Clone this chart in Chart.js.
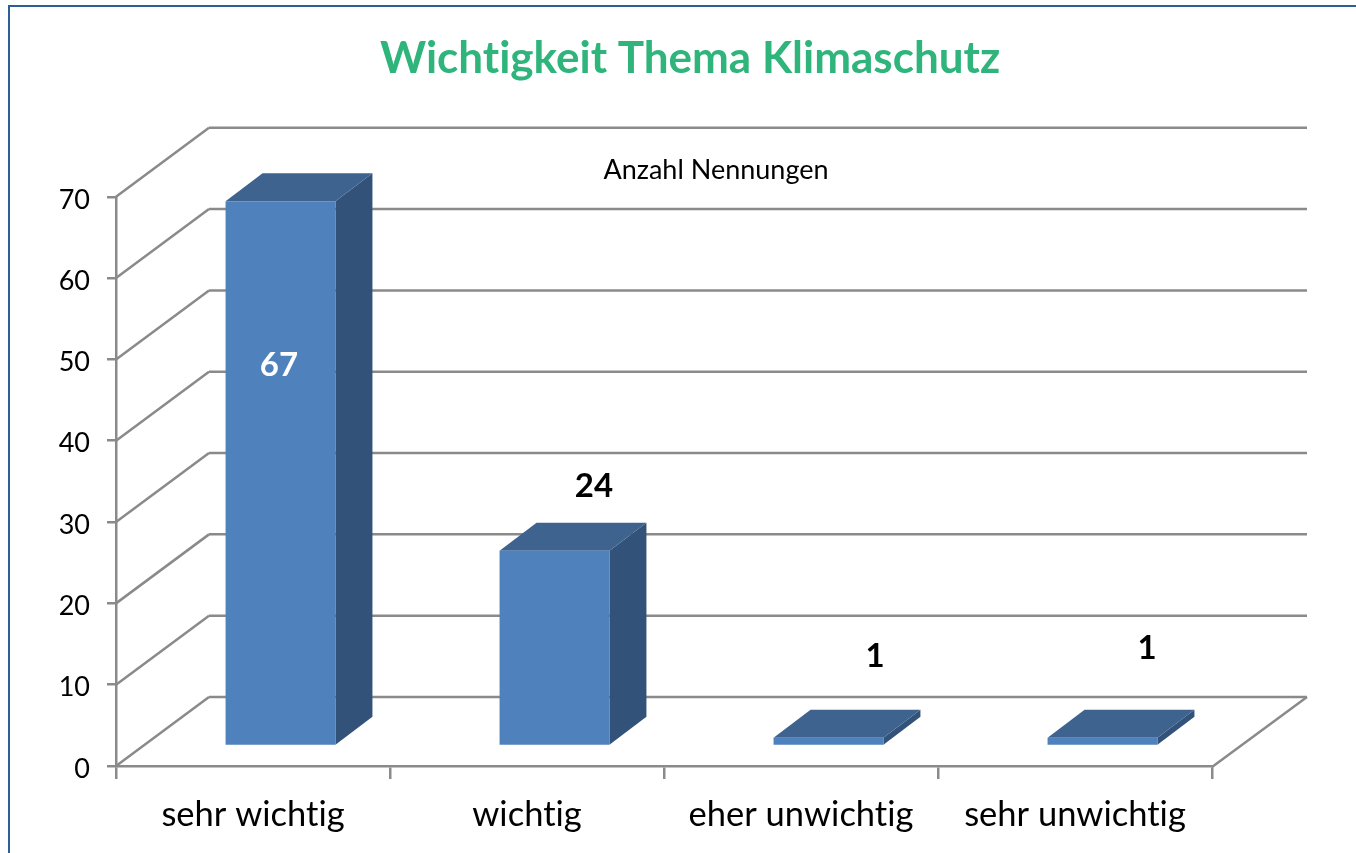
<!DOCTYPE html>
<html>
<head>
<meta charset="utf-8">
<title>Wichtigkeit Thema Klimaschutz</title>
<script src="https://cdn.jsdelivr.net/npm/chart.js@4"></script>
<style>
    html, body { margin: 0; padding: 0; background: #fff; overflow: hidden; }
    #frame { position: absolute; left: 8px; top: 5px; width: 1348px; height: 848px; border-left: 2px solid #2f5d97; border-top: 2px solid #2f5d97; box-sizing: border-box; }
    #chart { position: absolute; left: 0; top: 0; }
</style>
</head>
<body>
<div id="frame"></div>
<canvas id="chart" width="1356" height="853"></canvas>
<script>
const categories = ['sehr wichtig', 'wichtig', 'eher unwichtig', 'sehr unwichtig']
const counts = [67, 24, 1, 1]
const seriesName = 'Anzahl Nennungen'
const chartTitle = 'Wichtigkeit Thema Klimaschutz'

const GREY = '#8a8a8a'
const FONT = 'Lato, "Noto Sans", sans-serif'

// depth of the fake 3D box
const wall = { dx: 93, dy: -69 }
const barShift = { dx: 27.5, dy: -20 }
const barDepth = { dx: 37, dy: -28 }
// value label position relative to the bar, hand placed like in the original
const labelNudge = [[26, 144], [67, -84], [74, -102], [72, -110]]

let line = function(ctx, x1, y1, x2, y2) {
    ctx.beginPath()
    ctx.moveTo(x1, y1)
    ctx.lineTo(x2, y2)
    ctx.stroke()
}

let poly = function(ctx, color, points) {
    ctx.fillStyle = color
    ctx.beginPath()
    points.forEach((p, i) => i ? ctx.lineTo(p[0], p[1]) : ctx.moveTo(p[0], p[1]))
    ctx.closePath()
    ctx.fill()
}

const fake3d = {
    id: 'fake3d',
    // title is centred on the frame, not on the plot
    afterLayout(chart) {
        chart.titleBlock.left = 24
        chart.titleBlock.right = 1356
    },
    beforeDraw(chart) {
        // no "ti" ligatures, the original font does not join them
        chart.ctx.textRendering = 'optimizeSpeed'
        // y labels sit a bit lower than the tick marks in the original
        chart.scales.y.getLabelItems().forEach(item => {
            item.options.translation[1] += 3
        })
    },
    // walls and floor
    beforeDatasetsDraw(chart) {
        const { ctx, scales: { x, y } } = chart
        ctx.save()
        ctx.strokeStyle = GREY
        ctx.lineWidth = 2.5
        y.ticks.forEach(tick => {
            let py = y.getPixelForValue(tick.value)
            line(ctx, x.left, py, x.left + wall.dx, py + wall.dy)
            line(ctx, x.left + wall.dx, py + wall.dy, x.right + wall.dx + 2, py + wall.dy)
        })
        line(ctx, x.right, y.bottom + 1, x.right + wall.dx + 2, y.bottom + wall.dy)
        ctx.restore()
    },
    // side and top faces, then the library draws the front face in the same shifted space
    beforeDatasetDraw(chart, args) {
        const { ctx } = chart
        ctx.save()
        ctx.translate(barShift.dx, barShift.dy)
        args.meta.data.forEach(bar => {
            let l = bar.x - bar.width / 2
            let r = bar.x + bar.width / 2
            poly(ctx, '#335279', [[r, bar.y], [r + barDepth.dx, bar.y + barDepth.dy], [r + barDepth.dx, bar.base + barDepth.dy], [r, bar.base]])
            poly(ctx, '#3e638f', [[l, bar.y], [l + barDepth.dx, bar.y + barDepth.dy], [r + barDepth.dx, bar.y + barDepth.dy], [r, bar.y]])
        })
    },
    afterDatasetDraw(chart) {
        chart.ctx.restore()
    },
    afterDatasetsDraw(chart) {
        const { ctx } = chart
        const meta = chart.getDatasetMeta(0)
        ctx.save()
        ctx.textAlign = 'center'
        ctx.textBaseline = 'middle'
        ctx.font = 'bold 33px ' + FONT
        meta.data.forEach((bar, i) => {
            ctx.fillStyle = i === 0 ? '#ffffff' : '#000000'
            ctx.fillText(counts[i], bar.x + labelNudge[i][0], bar.y + labelNudge[i][1])
        })
        ctx.fillStyle = '#000000'
        ctx.font = '27px ' + FONT
        ctx.fillText(chart.data.datasets[0].label, 716, 170)
        ctx.restore()
    }
}

new Chart(document.getElementById('chart'), {
    type: 'bar',
    data: {
        labels: categories,
        datasets: [{
            label: seriesName,
            data: counts,
            backgroundColor: '#4f81bd',
            borderWidth: 0,
            barPercentage: 0.401,
            categoryPercentage: 1,
            clip: false
        }]
    },
    options: {
        responsive: false,
        animation: false,
        layout: { padding: { left: 0, right: 144, top: 0, bottom: 0 } },
        plugins: {
            legend: { display: false },
            tooltip: { enabled: false },
            title: {
                display: true,
                text: chartTitle,
                color: '#2fb47c',
                font: { family: FONT, size: 44, weight: 'bold', lineHeight: 1.2 },
                padding: { top: 32, bottom: 112 }
            }
        },
        scales: {
            x: {
                grid: { drawOnChartArea: false, color: GREY, lineWidth: 2.5, tickLength: 13 },
                border: { color: GREY, width: 2.5 },
                ticks: { color: '#000000', font: { family: FONT, size: 34.5 }, padding: 15, maxRotation: 0 },
                afterFit(scale) { scale.height = 87 }
            },
            y: {
                min: 0,
                max: 70,
                grid: { drawOnChartArea: false, color: GREY, lineWidth: 2.5, tickLength: 9 },
                border: { color: GREY, width: 2.5 },
                ticks: { stepSize: 10, color: '#000000', font: { family: FONT, size: 27 }, padding: 17 },
                afterFit(scale) { scale.width = 116 }
            }
        }
    },
    plugins: [fake3d]
})
</script>
</body>
</html>
